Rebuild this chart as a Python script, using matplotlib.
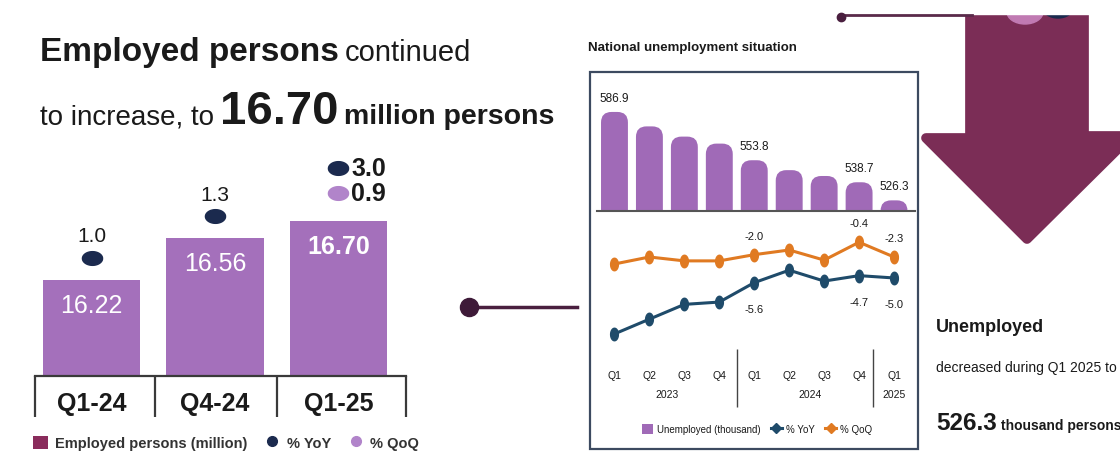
import numpy as np
import matplotlib
matplotlib.use("Agg")
import matplotlib.pyplot as plt
from matplotlib.patches import FancyBboxPatch, Rectangle, Polygon, Ellipse, Patch
from matplotlib.lines import Line2D
from matplotlib.path import Path
from matplotlib.transforms import offset_copy

W, H = 1120, 452

# employed persons (left chart)
emp_quarters = ["Q1-24", "Q4-24", "Q1-25"]
emp_million = [16.22, 16.56, 16.70]
emp_yoy = [1.0, 1.3, 3.0]
emp_qoq = [None, None, 0.9]

# national unemployment (inset chart)
unemp_quarters = ["Q1", "Q2", "Q3", "Q4", "Q1", "Q2", "Q3", "Q4", "Q1"]
unemp_years = ["2023", "2024", "2025"]
unemp_thousand = [586.9, 577.0, 570.0, 565.2, 553.8, 547.0, 543.0, 538.7, 526.3]
unemp_yoy = [-12.2, -10.3, -8.4, -8.1, -5.6, -4.0, -5.4, -4.7, -5.0]
unemp_qoq = [-3.2, -2.3, -2.8, -2.8, -2.0, -1.4, -2.7, -0.4, -2.3]
bar_labels_at = [0, 4, 7, 8]
pt_labels_at = [4, 7, 8]

BAR = "#a470bb"
NAVY = "#1b2a4e"
LAV = "#b184ca"
MAROON = "#7b2d56"
IBAR = "#a06ab7"
ORANGE = "#e07a22"
TEAL = "#1f4b6a"
SANS = ["Liberation Sans", "DejaVu Sans"]

plt.rcParams["font.family"] = SANS

fig = plt.figure(figsize=(11.2, 4.52), dpi=100)


def fx(x):
    return x / W


def fy(y):
    return 1 - y / H


def ax_at(x0, y0, x1, y1):
    return fig.add_axes([x0 / W, 1 - y1 / H, (x1 - x0) / W, (y1 - y0) / H])


def ell_marker(ax_ratio):
    t = np.linspace(0, 2 * np.pi, 60)
    return Path(np.c_[np.cos(t) * ax_ratio[0], np.sin(t) * ax_ratio[1]])


renderer = fig.canvas.get_renderer()


def text_row(x, y, parts, gap=6):
    # parts: list of (text, size, weight)
    for s, size, weight in parts:
        t = fig.text(fx(x), fy(y), s, fontsize=size, fontweight=weight,
                     va="baseline", ha="left", color="#1a1a1a")
        bb = t.get_window_extent(renderer)
        x = bb.x1 + gap


# ---------- left: employed persons ----------
text_row(40, 61, [("Employed persons", 24, "bold"),
                  ("continued", 21, "normal")])
text_row(40, 124, [("to increase, to", 20, "normal"),
                   (f"{emp_million[-1]:.2f}", 34, "bold"),
                   ("million persons", 20.5, "bold")])

ax = ax_at(30, 150, 410, 377)
x = np.arange(len(emp_quarters))
ax.bar(x, emp_million, width=0.79, color=BAR, zorder=2)
ax.set_xlim(-0.5, 2.58)
ax.set_ylim(15.43, 17.295)
for s in ax.spines.values():
    s.set_visible(False)
ax.set_yticks([])
ax.set_xticks(x, emp_quarters, fontsize=18, fontweight="bold", color="#1a1a1a")
ax.tick_params(axis="x", length=0, pad=11)
xt = ax.get_xaxis_transform()
seps = [-0.46, 0.51, 1.50, 2.55]
ax.vlines(seps, -0.18, 0, transform=xt, colors="#3a3a3a", lw=1.6, clip_on=False)
ax.plot([seps[0], seps[-1]], [0, 0], transform=xt, color="#3a3a3a", lw=1.6, clip_on=False)

ell = ell_marker((1.0, 0.68))
for i, v in enumerate(emp_million):
    last = i == len(emp_million) - 1
    ax.annotate(f"{v:.2f}", (i, v), xytext=(0, -25), textcoords="offset pixels",
                ha="center", va="center", color="white", fontsize=18,
                fontweight="bold" if last else "normal")
    yoy_off = 53 if last else 22
    ax.plot([i], [v], ls="", marker=ell, ms=14.5, color=NAVY,
            transform=offset_copy(ax.transData, fig=fig, x=0, y=yoy_off, units="dots"))
    if last:
        ax.annotate(f"{emp_yoy[i]:.1f}", (i, v), xytext=(13, yoy_off), textcoords="offset pixels",
                    ha="left", va="center", fontsize=18, fontweight="bold", color="#1a1a1a")
    else:
        ax.annotate(f"{emp_yoy[i]:.1f}", (i, v), xytext=(0, 44), textcoords="offset pixels",
                    ha="center", va="center", fontsize=15, color="#1a1a1a")
    if emp_qoq[i] is not None:
        ax.plot([i], [v], ls="", marker=ell, ms=14.5, color=LAV,
                transform=offset_copy(ax.transData, fig=fig, x=0, y=28, units="dots"))
        ax.annotate(f"{emp_qoq[i]:.1f}", (i, v), xytext=(13, 28), textcoords="offset pixels",
                    ha="left", va="center", fontsize=18, fontweight="bold", color="#1a1a1a")

h_left = [Patch(facecolor="#8a2c5c"),
          Line2D([], [], ls="", marker="o", ms=7, color=NAVY),
          Line2D([], [], ls="", marker="o", ms=7, color=LAV)]
fig.legend(h_left, ["Employed persons (million)", "% YoY", "% QoQ"], loc="center",
           bbox_to_anchor=(fx(226), fy(444)), ncol=3, frameon=False,
           prop=dict(family=SANS, weight="bold", size=10.5), labelcolor="#333333",
           handlelength=1.0, handleheight=1.0, handletextpad=0.5, columnspacing=1.2)

# connector in the middle
fig.add_artist(Line2D([fx(469), fx(577)], [fy(308), fy(308)], color="#4a1f3f", lw=2.5))
fig.add_artist(Line2D([fx(469)], [fy(308)], ls="", marker="o", ms=13, color="#3e1a38"))

# ---------- right: arrow and decoration ----------
arrow_px = [(970, 10), (1084, 10), (1084, 137), (1131, 137), (1027, 240),
            (926, 139), (970, 139)]
fig.add_artist(Polygon([(fx(a), fy(b)) for a, b in arrow_px], closed=True,
                       facecolor=MAROON, edgecolor=MAROON, lw=7, joinstyle="round"))
fig.add_artist(Ellipse((fx(1025), fy(13)), 36 / W, 24 / H, color="#c07ab2"))
fig.add_artist(Ellipse((fx(1058), fy(9)), 30 / W, 20 / H, color=NAVY))
fig.add_artist(Rectangle((0, fy(14.5)), 1, 14.5 / H, color="white", zorder=5))
fig.add_artist(Line2D([fx(840), fx(972)], [fy(15.5), fy(15.5)], color="#5a2a4a", lw=2, zorder=6))
fig.add_artist(Line2D([fx(841)], [fy(18)], ls="", marker="o", ms=6, color="#4a1f3f", zorder=6))

text_row(936, 332, [("Unemployed", 13, "bold")])
text_row(936, 372, [("decreased during Q1 2025 to", 10, "normal")])
text_row(936, 430, [(f"{unemp_thousand[-1]:.1f}", 17.5, "bold"),
                    ("thousand persons", 10, "bold")], gap=4)

# ---------- inset: national unemployment ----------
fig.add_artist(Rectangle((fx(590), fy(450)), 328 / W, 377 / H, fill=False,
                         edgecolor="#3c4a60", lw=1.6))
fig.text(fx(588), fy(51), "National unemployment situation",
         fontweight="bold", fontsize=9.5, va="baseline", color="#1a1a1a")

axb = ax_at(597, 88, 915, 212)
xl = (-0.5, 8.6)
yb = (519, 604)
axb.set_xlim(*xl)
axb.set_ylim(*yb)
axb.axis("off")
sx = 318 / (xl[1] - xl[0])
sy = 124 / (yb[1] - yb[0])
bw = 0.77
for i, v in enumerate(unemp_thousand):
    bottom = yb[0] - 20
    axb.add_patch(FancyBboxPatch((i - bw / 2, bottom), bw, v - bottom,
                                 boxstyle="round,pad=0,rounding_size=0.3",
                                 mutation_aspect=sx / sy, fc=IBAR, ec="none"))
    if i in bar_labels_at:
        axb.annotate(f"{v:.1f}", (i, v), xytext=(0, 14), textcoords="offset pixels",
                     ha="center", va="center", fontsize=8.5, color="#1a1a1a")
axb.axhline(yb[0], color="#555555", lw=1.5, clip_on=False)

axl = ax_at(597, 220, 915, 360)
axl.set_xlim(*xl)
axl.set_ylim(-15.43, 2.59)
for s in axl.spines.values():
    s.set_visible(False)
axl.set_yticks([])
xi = np.arange(len(unemp_quarters))
mk = ell_marker((0.62, 1.0))
axl.plot(xi, unemp_qoq, color=ORANGE, lw=2.2, marker=mk, ms=9)
axl.plot(xi, unemp_yoy, color=TEAL, lw=2.2, marker=mk, ms=9)
for i in pt_labels_at:
    axl.annotate(f"{unemp_qoq[i]:.1f}", (i, unemp_qoq[i]), xytext=(0, 19),
                 textcoords="offset pixels", ha="center", va="center",
                 fontsize=8, color="#1a1a1a")
    axl.annotate(f"{unemp_yoy[i]:.1f}", (i, unemp_yoy[i]), xytext=(0, -26),
                 textcoords="offset pixels", ha="center", va="center",
                 fontsize=8, color="#1a1a1a")
axl.set_xticks(xi, unemp_quarters, fontsize=7.5, color="#1a1a1a")
axl.tick_params(axis="x", length=0, pad=8)
lt = axl.get_xaxis_transform()
for xc, yr in zip([1.5, 5.6, 8], unemp_years):
    axl.text(xc, -0.25, yr, transform=lt, ha="center", va="center",
             fontsize=7.5, color="#1a1a1a")
axl.vlines([3.5, 7.4], -0.343, 0.071, transform=lt, colors="#444444", lw=1, clip_on=False)

h_in = [Patch(facecolor=IBAR),
        Line2D([], [], color=TEAL, lw=2.2, marker="D", ms=5),
        Line2D([], [], color=ORANGE, lw=2.2, marker="D", ms=5)]
fig.legend(h_in, ["Unemployed (thousand)", "% YoY", "% QoQ"], loc="center",
           bbox_to_anchor=(fx(757), fy(430)), ncol=3, frameon=False,
           prop=dict(size=7), labelcolor="#1a1a1a",
           handlelength=1.2, handleheight=1.2, handletextpad=0.4, columnspacing=1.0)

fig.savefig("out.png", dpi=100)
